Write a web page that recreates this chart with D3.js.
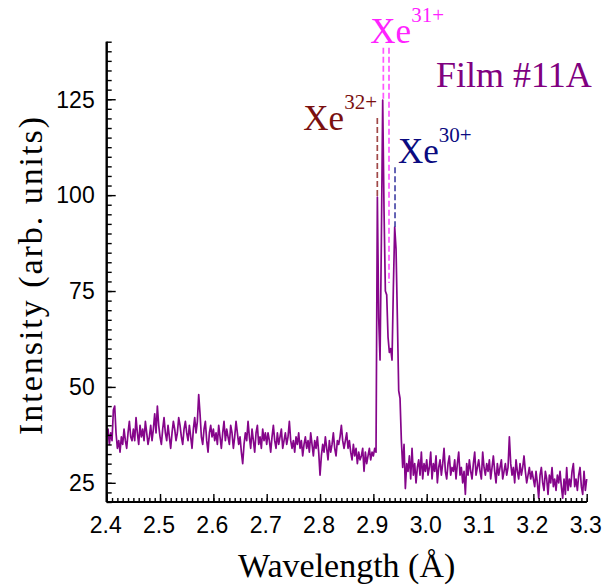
<!DOCTYPE html>
<html lang="en">
  <head>
    <meta charset="UTF-8">
    <script src="https://d3js.org/d3.v7.min.js"></script>
    <title>Film #11A</title>
    <style>
      body { margin: 0; background: #fff; }
      .tick-label { font-family: "Liberation Sans", Arial, sans-serif; font-size: 23px; fill: #000; }
      .axis-title { font-size: 34px; fill: #000; }
    </style>
  </head>
  <body>
    <div id="chart"></div>
    <script>
      const serif = "'Liberation Serif', 'DejaVu Serif', 'Noto Serif', 'Times New Roman', serif";

      // wavelength grid (Å)
      const wlStart = 2.4;
      const wlStep = 0.0025;

      // intensity, one value per grid step
      const intensity = [
        37, 39, 35, 38, 36, 44, 45, 38, 34, 36, 33, 37, 35, 39, 36, 34, 38, 41, 37, 36,
        39, 36, 42, 38, 35, 40, 37, 39, 36, 41, 38, 35, 37, 40, 36, 39, 43, 38, 45, 40,
        37, 35, 39, 42, 38, 36, 40, 37, 34, 38, 41, 39, 36, 38, 42, 40, 37, 35, 39, 41,
        38, 36, 40, 37, 34, 39, 42, 38, 41, 48, 43, 37, 35, 39, 41, 36, 33, 38, 40, 37,
        39, 36, 38, 35, 40, 37, 34, 38, 41, 36, 39, 37, 35, 40, 38, 34, 37, 41, 38, 35,
        37, 33, 30, 35, 38, 36, 41, 37, 34, 39, 36, 33, 38, 40, 35, 37, 34, 39, 36, 38,
        35, 38, 36, 33, 37, 40, 36, 34, 38, 35, 37, 39, 34, 36, 38, 35, 37, 41, 36, 34,
        36, 33, 37, 35, 38, 34, 36, 32, 35, 37, 34, 36, 33, 38, 35, 32, 36, 34, 37, 33,
        27, 32, 35, 33, 37, 34, 31, 36, 33, 35, 38, 34, 32, 36, 35, 37, 40, 36, 34, 36,
        38, 34, 36, 33, 31, 35, 32, 34, 30, 33, 31, 32, 34, 28, 33, 30, 32, 34, 31, 33,
        32, 34, 33, 99.5, 68, 57, 88, 124.8, 96, 75, 74, 63, 59, 60, 57, 76, 91.7, 86, 68, 49,
        47, 36, 29, 35, 23.5, 30, 28, 32, 26, 34, 27, 30, 25, 29, 31, 27, 33, 26, 30, 28,
        31, 27, 29, 33, 26, 30, 28, 32, 25, 29, 31, 27, 30, 34, 28, 26, 30, 32, 27, 29,
        28, 31, 26, 30, 33, 27, 29, 25, 28, 22, 30, 27, 31, 28, 26, 30, 33, 27, 29, 31,
        28, 26, 33, 29, 27, 30, 28, 31, 26, 29, 32, 28, 25, 30, 27, 29, 31, 26, 28, 30,
        27, 29, 37, 30, 27, 29, 25, 31, 28, 26, 30, 27, 29, 32, 28, 25, 27, 29, 26, 28,
        26, 24, 28, 25, 21, 27, 29, 25, 23, 28, 26, 22, 27, 25, 29, 24, 26, 23, 27, 25,
        28, 24, 21, 26, 22, 29, 23, 26, 24, 28, 30, 24, 26, 23, 27, 29, 24, 22, 28, 23,
        26
      ];

      const xTicks = [2.4, 2.5, 2.6, 2.7, 2.8, 2.9, 3.0, 3.1, 3.2, 3.3];
      const yTicks = [25, 50, 75, 100, 125];

      // ion lines: label, wavelength, dashed line top / bottom (intensity units)
      const ionNames = ["32+", "31+", "31+", "30+"];
      const ionWl = [2.9074, 2.9187, 2.9293, 2.9406];
      const ionTop = [120.1, 138.4, 138.4, 107.3];
      const ionBottom = [99.5, 124.8, 77.1, 91.7];

      const width = 609, height = 587;
      const margin = { top: 41.7, right: 22.3, bottom: 85, left: 106.7 };

      const x = d3.scaleLinear().domain([2.4, 3.3]).range([margin.left, width - margin.right]);
      const y = d3.scaleLinear().domain([20, 140]).range([height - margin.bottom, margin.top]);

      const svg = d3.select("#chart").append("svg")
        .attr("width", width).attr("height", height);

      const data = intensity.map((v, i) => ({ wl: wlStart + i * wlStep, v }));

      // trace
      svg.append("path")
        .datum(data)
        .attr("fill", "none")
        .attr("stroke", "#85058a")
        .attr("stroke-width", 1.7)
        .attr("stroke-linejoin", "round")
        .attr("d", d3.line().x(d => x(d.wl)).y(d => y(Math.max(20, d.v))));

      // dashed ion markers
      const ionColor = { "32+": "#a04848", "31+": "#ff55ff", "30+": "#4a4aa8" };
      ionWl.forEach((wl, i) => {
        svg.append("line")
          .attr("x1", x(wl)).attr("x2", x(wl))
          .attr("y1", y(ionTop[i])).attr("y2", y(ionBottom[i]))
          .attr("stroke", ionColor[ionNames[i]])
          .attr("stroke-width", 1.7)
          .attr("stroke-dasharray", "6,3");
      });

      // axes
      const xMinor = d3.range(240, 331).map(d => d / 100);
      const yMinor = d3.range(20, 141, 2.5);

      const gx = svg.append("g").attr("transform", `translate(0,${y(20)})`);
      gx.call(d3.axisBottom(x).tickValues(xMinor).tickSize(-4).tickFormat(""));
      gx.call(g => g.append("g").call(d3.axisBottom(x).tickValues(xTicks).tickSize(-8).tickFormat("")));
      gx.selectAll(".domain").attr("stroke-width", 2).attr("d", `M${x(2.4)},0H${x(3.3)}`);
      gx.selectAll(".tick line").attr("stroke-width", 1.4);

      const gy = svg.append("g").attr("transform", `translate(${x(2.4)},0)`);
      gy.call(d3.axisLeft(y).tickValues(yMinor).tickSize(-5).tickFormat(""));
      gy.call(g => g.append("g").call(d3.axisLeft(y).tickValues(yTicks).tickSize(-9).tickFormat("")));
      gy.selectAll(".domain").attr("stroke-width", 2).attr("d", `M0,${y(20)}V${y(140)}`);
      gy.selectAll(".tick line").attr("stroke-width", 1.4);

      // tick labels
      svg.selectAll(".xl").data(xTicks).enter().append("text")
        .attr("class", "tick-label")
        .attr("x", d => x(d) - 1)
        .attr("y", 533)
        .attr("text-anchor", "middle")
        .text(d3.format(".1f"));

      svg.selectAll(".yl").data(yTicks).enter().append("text")
        .attr("class", "tick-label")
        .attr("x", x(2.4) - 12)
        .attr("y", d => y(d))
        .attr("dy", "0.36em")
        .attr("text-anchor", "end")
        .text(d => d);

      // axis titles
      svg.append("text")
        .attr("class", "axis-title")
        .attr("font-family", serif)
        .attr("x", (x(2.4) + x(3.3)) / 2)
        .attr("y", 577)
        .attr("text-anchor", "middle")
        .text("Wavelength (Å)");

      svg.append("text")
        .attr("class", "axis-title")
        .attr("font-family", serif)
        .attr("font-size", 36)
        .attr("transform", `translate(42,${276}) rotate(-90)`)
        .attr("text-anchor", "middle")
        .attr("textLength", 318)
        .attr("lengthAdjust", "spacing")
        .text("Intensity (arb. units)");

      // ion labels
      const labels = [
        { ion: "31+", dx: -13, base: 43.3, color: "#ff22ff" },
        { ion: "32+", dx: -74, base: 130, color: "#7a1010" },
        { ion: "30+", dx: 3, base: 163.3, color: "#0a0a80" }
      ];
      const labelWl = { "32+": ionWl[0], "31+": ionWl[1], "30+": ionWl[3] };
      labels.forEach(l => {
        const t = svg.append("text")
          .attr("font-family", serif)
          .attr("x", x(labelWl[l.ion]) + l.dx)
          .attr("y", l.base)
          .attr("fill", l.color)
          .attr("font-size", 35);
        t.append("tspan").text("Xe");
        t.append("tspan").attr("dy", -21).attr("font-size", 21).text(l.ion);
      });

      svg.append("text")
        .attr("font-family", serif)
        .attr("x", 436)
        .attr("y", 86.7)
        .attr("fill", "#800080")
        .attr("font-size", 36)
        .text("Film #11A");
    </script>
  </body>
</html>
